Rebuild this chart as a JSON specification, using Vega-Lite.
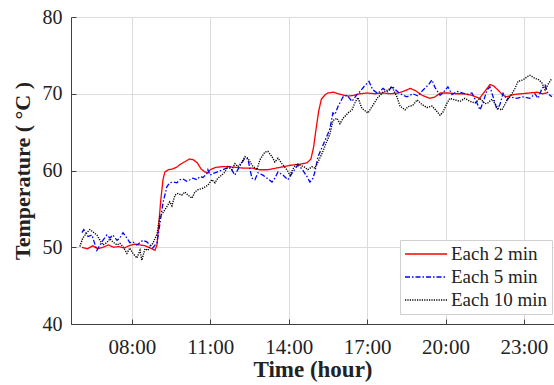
{
"$schema": "https://vega.github.io/schema/vega-lite/v6.json",
"width": 483, "height": 307,
"autosize": {"type": "none"},
"padding": {"left": 71, "top": 17, "right": 0, "bottom": 61},
"background": "white",
"config": {"font": "Liberation Serif", "view": {"stroke": null}},
"datasets": {
"red": [[6.09,50.0],[6.3,49.8],[6.5,50.2],[6.7,49.8],[6.9,50.0],[7.1,50.3],[7.3,50.0],[7.5,50.1],[7.7,49.9],[7.9,50.2],[8.1,50.4],[8.3,50.3],[8.5,50.2],[8.7,49.9],[8.88,49.6],[8.96,50.3],[9.03,53],[9.1,56],[9.19,58.8],[9.26,59.8],[9.4,60.1],[9.55,60.2],[9.7,60.4],[9.85,60.8],[10.0,61.1],[10.2,61.5],[10.35,61.4],[10.5,61.0],[10.65,60.2],[10.8,59.8],[10.91,59.7],[11.0,60.1],[11.2,60.4],[11.45,60.5],[11.7,60.5],[12.0,60.4],[12.3,60.3],[12.6,60.3],[12.9,60.1],[13.2,60.1],[13.5,60.3],[13.8,60.5],[14.1,60.7],[14.4,60.8],[14.7,61.0],[14.85,61.5],[14.95,63],[15.05,65.5],[15.15,67.8],[15.25,69.3],[15.4,69.9],[15.5,70.1],[15.7,70.2],[15.9,70.0],[16.1,69.8],[16.3,69.7],[16.5,69.8],[16.73,70.0],[17.0,70.1],[17.3,70.0],[17.6,70.1],[17.9,70.0],[18.2,70.1],[18.45,70.4],[18.65,70.7],[18.85,70.4],[19.1,69.8],[19.4,69.4],[19.6,69.6],[19.8,70.1],[20.1,70.1],[20.4,70.0],[20.7,70.0],[21.0,69.8],[21.3,69.4],[21.5,70.3],[21.7,71.2],[21.85,71.0],[22.0,70.5],[22.2,69.8],[22.35,69.6],[22.6,69.9],[22.9,70.0],[23.2,70.1],[23.5,70.2],[23.7,70.0],[23.88,70.1]],
"blue": [[6.09,51.9],[6.16,52.3],[6.32,51.4],[6.47,51.6],[6.66,49.6],[6.78,50.3],[6.89,50.9],[7.04,51.6],[7.16,51.2],[7.27,51.6],[7.43,50.9],[7.54,51.2],[7.66,51.9],[7.81,51.2],[7.92,50.6],[8.04,50.7],[8.19,50.3],[8.31,50.6],[8.42,50.9],[8.57,50.7],[8.69,50.3],[8.8,49.9],[8.96,50.6],[9.07,53.0],[9.19,55.8],[9.34,57.9],[9.45,58.4],[9.57,58.5],[9.72,58.4],[9.84,58.8],[9.95,58.9],[10.1,58.6],[10.22,58.8],[10.33,59.0],[10.49,58.8],[10.6,59.2],[10.72,59.1],[10.87,59.6],[10.91,60.1],[10.99,59.4],[11.1,59.6],[11.25,59.8],[11.48,60.1],[11.75,60.5],[11.94,59.4],[12.13,60.6],[12.32,61.6],[12.44,61.5],[12.59,59.0],[12.71,58.8],[12.82,59.7],[13.01,59.4],[13.17,59.0],[13.36,58.5],[13.47,59.0],[13.59,59.8],[13.78,59.4],[13.97,58.8],[14.16,59.8],[14.35,60.7],[14.51,60.2],[14.7,59.2],[14.81,58.5],[14.93,59.0],[15.0,59.8],[15.12,61.8],[15.31,63.3],[15.5,64.8],[15.58,65.5],[15.69,67.5],[15.77,67.3],[15.88,68.3],[16.08,69.6],[16.23,69.8],[16.42,69.0],[16.61,69.9],[16.73,70.3],[16.92,71.1],[17.07,71.6],[17.22,70.5],[17.41,70.05],[17.61,70.7],[17.8,70.2],[17.95,71.0],[18.06,70.6],[18.26,70.0],[18.52,69.6],[18.75,70.0],[18.95,69.7],[19.14,70.5],[19.33,71.1],[19.48,71.8],[19.6,70.8],[19.79,69.8],[19.9,70.1],[20.09,70.9],[20.25,69.9],[20.44,70.3],[20.63,70.1],[20.82,69.9],[21.01,70.1],[21.2,68.8],[21.32,67.9],[21.43,68.8],[21.59,70.5],[21.7,70.9],[21.82,69.6],[21.97,67.9],[22.08,68.6],[22.2,70.05],[22.35,69.2],[22.47,69.6],[22.73,69.4],[22.96,69.6],[23.23,69.4],[23.42,70.0],[23.54,69.4],[23.69,70.7],[23.81,71.1],[23.92,70.0],[24.07,69.6]],
"black": [[6.01,50.1],[6.12,51.2],[6.28,51.9],[6.39,52.3],[6.51,52.0],[6.66,51.6],[6.78,50.9],[6.89,50.3],[7.04,50.6],[7.16,51.1],[7.27,50.7],[7.43,50.3],[7.54,50.5],[7.66,50.1],[7.81,49.2],[7.92,49.9],[8.04,49.2],[8.19,48.6],[8.31,49.6],[8.38,48.3],[8.5,49.8],[8.61,49.6],[8.69,50.1],[8.8,50.5],[8.96,51.7],[9.07,54.0],[9.19,54.5],[9.34,55.3],[9.45,55.9],[9.53,55.4],[9.65,56.8],[9.76,57.0],[9.91,56.8],[10.03,57.2],[10.14,56.8],[10.3,56.4],[10.41,57.2],[10.53,57.5],[10.72,57.7],[10.91,58.1],[11.06,58.8],[11.18,58.4],[11.29,59.0],[11.44,59.4],[11.56,59.8],[11.67,60.5],[11.83,60.1],[11.94,60.9],[12.06,60.5],[12.21,61.1],[12.32,61.8],[12.44,61.6],[12.59,60.7],[12.78,60.1],[12.9,61.4],[13.09,62.4],[13.2,62.5],[13.36,61.8],[13.47,61.1],[13.59,61.6],[13.74,60.9],[13.93,60.1],[14.05,59.4],[14.16,60.2],[14.31,60.9],[14.43,60.7],[14.62,60.4],[14.73,60.1],[14.89,60.5],[15.0,60.3],[15.12,61.1],[15.27,62.2],[15.46,63.8],[15.58,64.8],[15.69,66.5],[15.85,66.8],[15.96,66.1],[16.08,66.8],[16.27,67.5],[16.42,67.9],[16.53,68.8],[16.65,69.5],[16.8,68.1],[17.03,67.5],[17.22,68.5],[17.41,69.5],[17.61,70.2],[17.8,70.5],[17.95,70.9],[18.14,69.6],[18.26,68.4],[18.45,67.9],[18.56,68.3],[18.75,68.5],[18.91,69.2],[19.1,68.6],[19.29,68.2],[19.48,68.4],[19.67,67.7],[19.79,67.2],[19.9,67.6],[20.06,68.8],[20.17,69.4],[20.36,69.2],[20.55,69.0],[20.74,69.4],[20.94,69.0],[21.13,68.8],[21.32,69.4],[21.51,68.7],[21.62,68.8],[21.78,69.3],[21.89,68.7],[22.01,68.1],[22.16,67.9],[22.27,68.6],[22.39,69.4],[22.54,70.0],[22.66,70.7],[22.77,71.6],[22.96,71.8],[23.12,72.2],[23.23,72.4],[23.42,72.0],[23.54,71.9],[23.69,71.4],[23.81,70.5],[23.92,71.2],[24.07,72.0]]
},
"layer": [
{"data": {"name": "red"}, "transform": [{"calculate": "'Each 2 min'", "as": "s"}, {"calculate": "datum[0]", "as": "t"}, {"calculate": "datum[1]", "as": "T"}], "mark": {"type": "line", "strokeWidth": 1.3, "clip": true}, "encoding": {}},
{"data": {"name": "blue"}, "transform": [{"calculate": "'Each 5 min'", "as": "s"}, {"calculate": "datum[0]", "as": "t"}, {"calculate": "datum[1]", "as": "T"}], "mark": {"type": "line", "strokeWidth": 1.3, "clip": true}, "encoding": {}},
{"data": {"name": "black"}, "transform": [{"calculate": "'Each 10 min'", "as": "s"}, {"calculate": "datum[0]", "as": "t"}, {"calculate": "datum[1]", "as": "T"}], "mark": {"type": "line", "strokeWidth": 1.4, "clip": true}, "encoding": {}}
],
"encoding": {
"x": {"field": "t", "type": "quantitative", "scale": {"domain": [5.67, 24.15], "nice": false, "zero": false},
 "axis": {"values": [8, 11, 14, 17, 20, 23], "labelExpr": "(datum.value < 10 ? '0' : '') + datum.value + ':00'", "title": "Time (hour)", "titleFont": "Liberation Serif", "titleFontSize": 23, "titleFontWeight": "bold", "titleColor": "#222", "labelFont": "Liberation Serif", "labelFontSize": 21, "labelColor": "#222", "labelPadding": 17, "tickSize": -5, "tickColor": "#404040", "domainColor": "#404040", "gridColor": "#dcdcdc", "titlePadding": 1, "labelFlush": false}},
"y": {"field": "T", "type": "quantitative", "scale": {"domain": [40, 80], "nice": false, "zero": false},
 "axis": {"values": [40, 50, 60, 70, 80], "title": "Temperature ( °C )", "titleFont": "Liberation Serif", "titleFontSize": 22, "titleFontWeight": "bold", "titleColor": "#222", "labelFont": "Liberation Serif", "labelFontSize": 20, "labelColor": "#222", "labelPadding": 14, "tickSize": -5, "tickColor": "#404040", "domainColor": "#404040", "gridColor": "#dcdcdc", "titlePadding": 8}},
"color": {"field": "s", "type": "nominal", "scale": {"domain": ["Each 2 min", "Each 5 min", "Each 10 min"], "range": ["#ff0000", "#0000ff", "#000000"]},
 "legend": {"title": null, "orient": "none", "legendX": 329, "legendY": 223, "fillColor": "white", "strokeColor": "#d0d0d0", "padding": 4, "symbolType": "stroke", "symbolSize": 1764, "symbolStrokeWidth": 1.3, "clipHeight": 20, "labelFont": "Liberation Serif", "labelFontSize": 19, "labelColor": "#222", "rowPadding": 3, "labelOffset": 3}},
"strokeDash": {"field": "s", "type": "nominal", "scale": {"domain": ["Each 2 min", "Each 5 min", "Each 10 min"], "range": [[1, 0], [5, 2, 1.5, 2], [1.2, 1.2]]}, "legend": {"title": null}}
}
}
